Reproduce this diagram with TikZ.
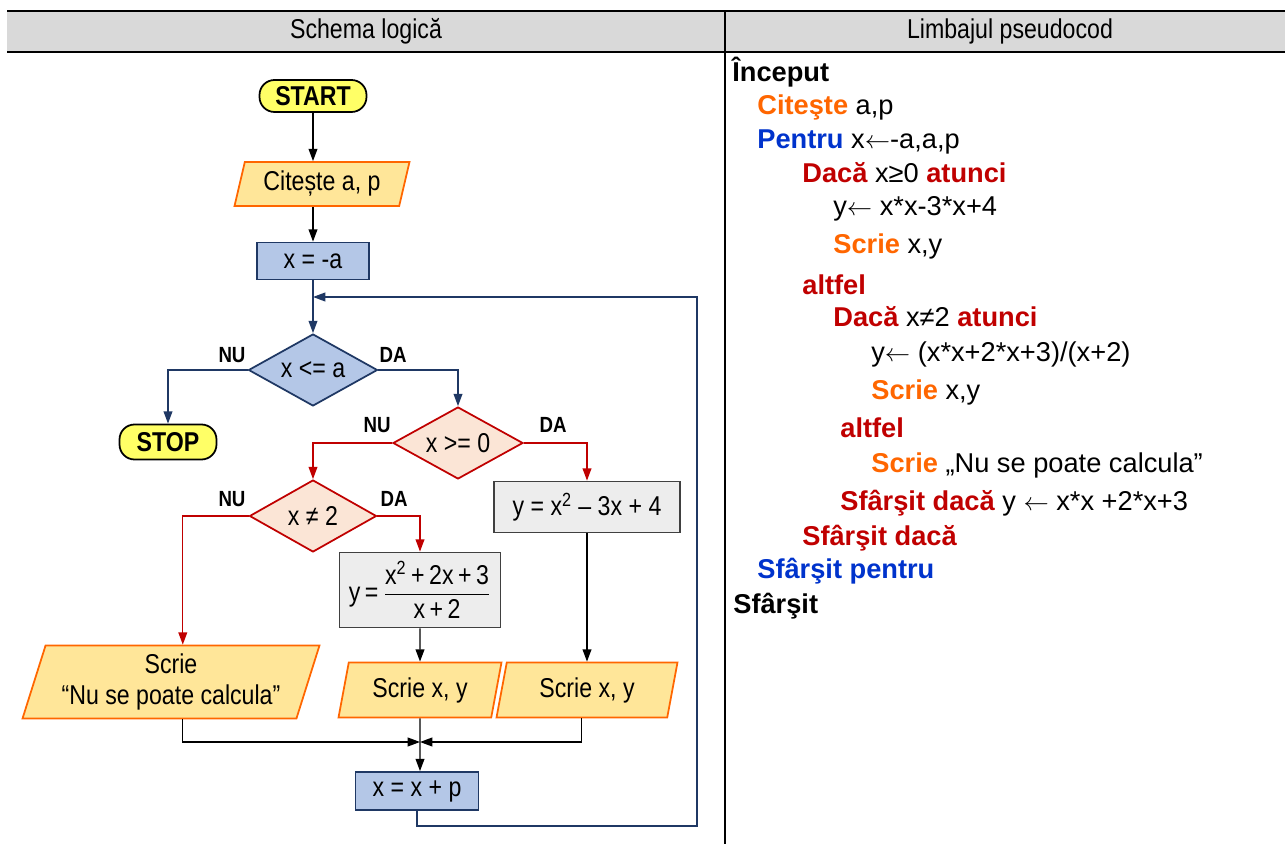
\documentclass[tikz,border=0pt]{standalone}
\usepackage{fontspec}
\usepackage{amsmath}
\usepackage{tikz}
\usetikzlibrary{positioning, shapes, calc, arrows.meta}
\setmainfont{Liberation Sans}
\newfontfamily\narrowfont[FakeStretch=0.85]{Liberation Sans}
\definecolor{hdrgray}{RGB}{217,217,217}
\definecolor{navyline}{RGB}{31,56,100}
\definecolor{bluefill}{RGB}{180,199,231}
\definecolor{darkred}{RGB}{192,0,0}
\definecolor{pinkfill}{RGB}{251,229,214}
\definecolor{grayfill}{RGB}{237,237,237}
\definecolor{grayline}{RGB}{64,64,64}
\definecolor{orangeline}{RGB}{255,102,0}
\definecolor{orangefill}{RGB}{255,230,153}
\definecolor{startyellow}{RGB}{255,255,102}
\definecolor{kworange}{RGB}{255,102,0}
\definecolor{kwblue}{RGB}{0,51,204}
\definecolor{kwred}{RGB}{192,0,0}

\newcommand{\flowfont}{\narrowfont\fontsize{15.5}{18}\selectfont}
\newcommand{\codefont}{\fontsize{15.5}{18}\selectfont}
\newcommand{\kw}[2]{{\bfseries\color{#1}#2}}
\newcommand{\getsarrow}{$\leftarrow$}

\tikzset{
  term/.style={draw=black, line width=1pt, fill=startyellow, rounded corners=0.3cm, font=\flowfont\bfseries, inner sep=0pt},
  io/.style={trapezium, trapezium left angle=68, trapezium right angle=112, trapezium stretches body=true, draw=orangeline, line width=1pt, fill=orangefill, font=\flowfont, inner sep=0pt, align=center},
  assign/.style={draw=navyline, line width=1pt, fill=bluefill, font=\flowfont, inner sep=0pt},
  calcbox/.style={draw=grayline, line width=1pt, fill=grayfill, font=\flowfont, inner sep=0pt},
  testb/.style={diamond, aspect=1.8, draw=navyline, line width=1pt, fill=bluefill, font=\flowfont, inner sep=0pt},
  testr/.style={testb, draw=darkred, fill=pinkfill},
  lbl/.style={font=\narrowfont\fontsize{12.5}{14}\selectfont\bfseries, inner sep=0pt},
  link/.style={line width=0.8pt, -{Triangle[width=5pt,length=7pt]}},
  code/.style={anchor=base west, font=\codefont, inner sep=0pt},
}

\begin{document}
\begin{tikzpicture}[x=0.02cm, y=-0.02cm]
  \useasboundingbox (0,0) rectangle (1285,844);

  %% table head
  \fill[hdrgray] (7,11) rectangle (1285,52);
  \draw[line width=1.7pt] (7,11) -- (1285,11);
  \draw[line width=1.7pt] (7,52) -- (1285,52);
  \draw[line width=1.1pt] (725,11) -- (725,844);
  \node[font=\flowfont] (hl) at (366,31) {Schema logică};
  \node[font=\flowfont] (hr) at (1010,31) {Limbajul pseudocod};

  %% flowchart
  \node[term, minimum width=2.14cm, minimum height=0.64cm] (start) at (313,96) {START};
  \node[io, minimum width=3.5cm, minimum height=0.88cm] (cit) at (322,184) {Citește a, p};
  \node[assign, minimum width=2.24cm, minimum height=0.74cm] (xa) at (313,261) {x = -a};
  \node[testb, minimum width=2.58cm, minimum height=1.44cm] (c1) at (313,370) {x <= a};
  \node[term, minimum width=1.94cm, minimum height=0.7cm] (stop) at (168,442) {STOP};
  \node[testr, minimum width=2.6cm, minimum height=1.44cm] (c2) at (458,443) {x >= 0};
  \node[testr, minimum width=2.54cm, minimum height=1.44cm] (c3) at (313,516) {x ≠ 2};
  \node[calcbox, minimum width=3.72cm, minimum height=1.02cm] (sq) at (587,507) {y = x\textsuperscript{2} – 3x + 4};
  \node[calcbox, minimum width=3.22cm, minimum height=1.5cm] (fr) at (420,590)
    {y\,=\,$\dfrac{\hbox{x\textsuperscript{2}\,+\,2x\,+\,3}}{\hbox{x\,+\,2}}$};
  \node[io, minimum width=5.94cm, minimum height=1.46cm] (nu) at (171,682) {Scrie\\“Nu se poate calcula”};
  \node[io, minimum width=3.26cm, minimum height=1.1cm] (sm) at (420,690) {Scrie x, y};
  \node[io, minimum width=3.62cm, minimum height=1.1cm] (sr) at (587,690) {Scrie x, y};
  \node[assign, minimum width=2.46cm, minimum height=0.76cm] (xp) at (417,791) {x = x + p};

  \node[lbl] (n1) at (232,355) {NU};
  \node[lbl] (d1) at (393,355) {DA};
  \node[lbl] (n2) at (377,425) {NU};
  \node[lbl] (d2) at (553,425) {DA};
  \node[lbl] (n3) at (232,499) {NU};
  \node[lbl] (d3) at (394,499) {DA};

  \coordinate (m) at (420,742);
  \coordinate (loop) at (313,297);
  \coordinate (back) at (697,826);

  \draw[link] (start.south) -- (start.south |- cit.north);
  \draw[link] (xa.north |- cit.south) -- (xa.north);
  \draw[link, navyline] (xa.south) -- (c1.north);
  \draw[link, navyline] (c1.west) -| (stop.north);
  \draw[link, navyline] (c1.east) -| (c2.north);
  \draw[link, darkred] (c2.west) -| (c3.north);
  \draw[link, darkred] (c2.east) -| (sq.north);
  \draw[link, darkred] (c3.west) -| (nu.top side);
  \draw[link, darkred] (c3.east) -| (fr.north);
  \draw[link] (fr.south) -- (sm.north);
  \draw[link] (sq.south) -- (sq.south |- sr.north);
  \draw[link] ([xshift=0.23cm]nu.south) |- (m);
  \draw[link] (sr.bottom side) |- (m);
  \draw[link] (sm.south) -- (m |- xp.north);
  \draw[link, navyline] (xp.south) |- (back) |- (loop);

  %% pseudocode
  \node[code] (l1) at (732,82) {\bfseries Început};
  \node[code] (l2) at (757,115) {\kw{kworange}{Citeşte} a,p};
  \node[code] (l3) at (757,149) {\kw{kwblue}{Pentru} x\getsarrow-a,a,p};
  \node[code] (l4) at (802,183) {\kw{kwred}{Dacă} x≥0 \kw{kwred}{atunci}};
  \node[code] (l5) at (833,216) {y\getsarrow{} x*x-3*x+4};
  \node[code] (l6) at (833,254) {\kw{kworange}{Scrie} x,y};
  \node[code] (l7) at (802,295) {\kw{kwred}{altfel}};
  \node[code] (l8) at (833,327) {\kw{kwred}{Dacă} x≠2 \kw{kwred}{atunci}};
  \node[code] (l9) at (871,362) {y\getsarrow{} (x*x+2*x+3)/(x+2)};
  \node[code] (l10) at (871,400) {\kw{kworange}{Scrie} x,y};
  \node[code] (l11) at (840,438) {\kw{kwred}{altfel}};
  \node[code] (l12) at (871,473) {\kw{kworange}{Scrie} „Nu se poate calcula”};
  \node[code] (l13) at (840,510) {\kw{kwred}{Sfârşit dacă} y \getsarrow{} x*x +2*x+3};
  \node[code] (l14) at (802,545) {\kw{kwred}{Sfârşit dacă}};
  \node[code] (l15) at (757,578) {\kw{kwblue}{Sfârşit pentru}};
  \node[code] (l16) at (733,613) {\bfseries Sfârşit};
\end{tikzpicture}
\end{document}
